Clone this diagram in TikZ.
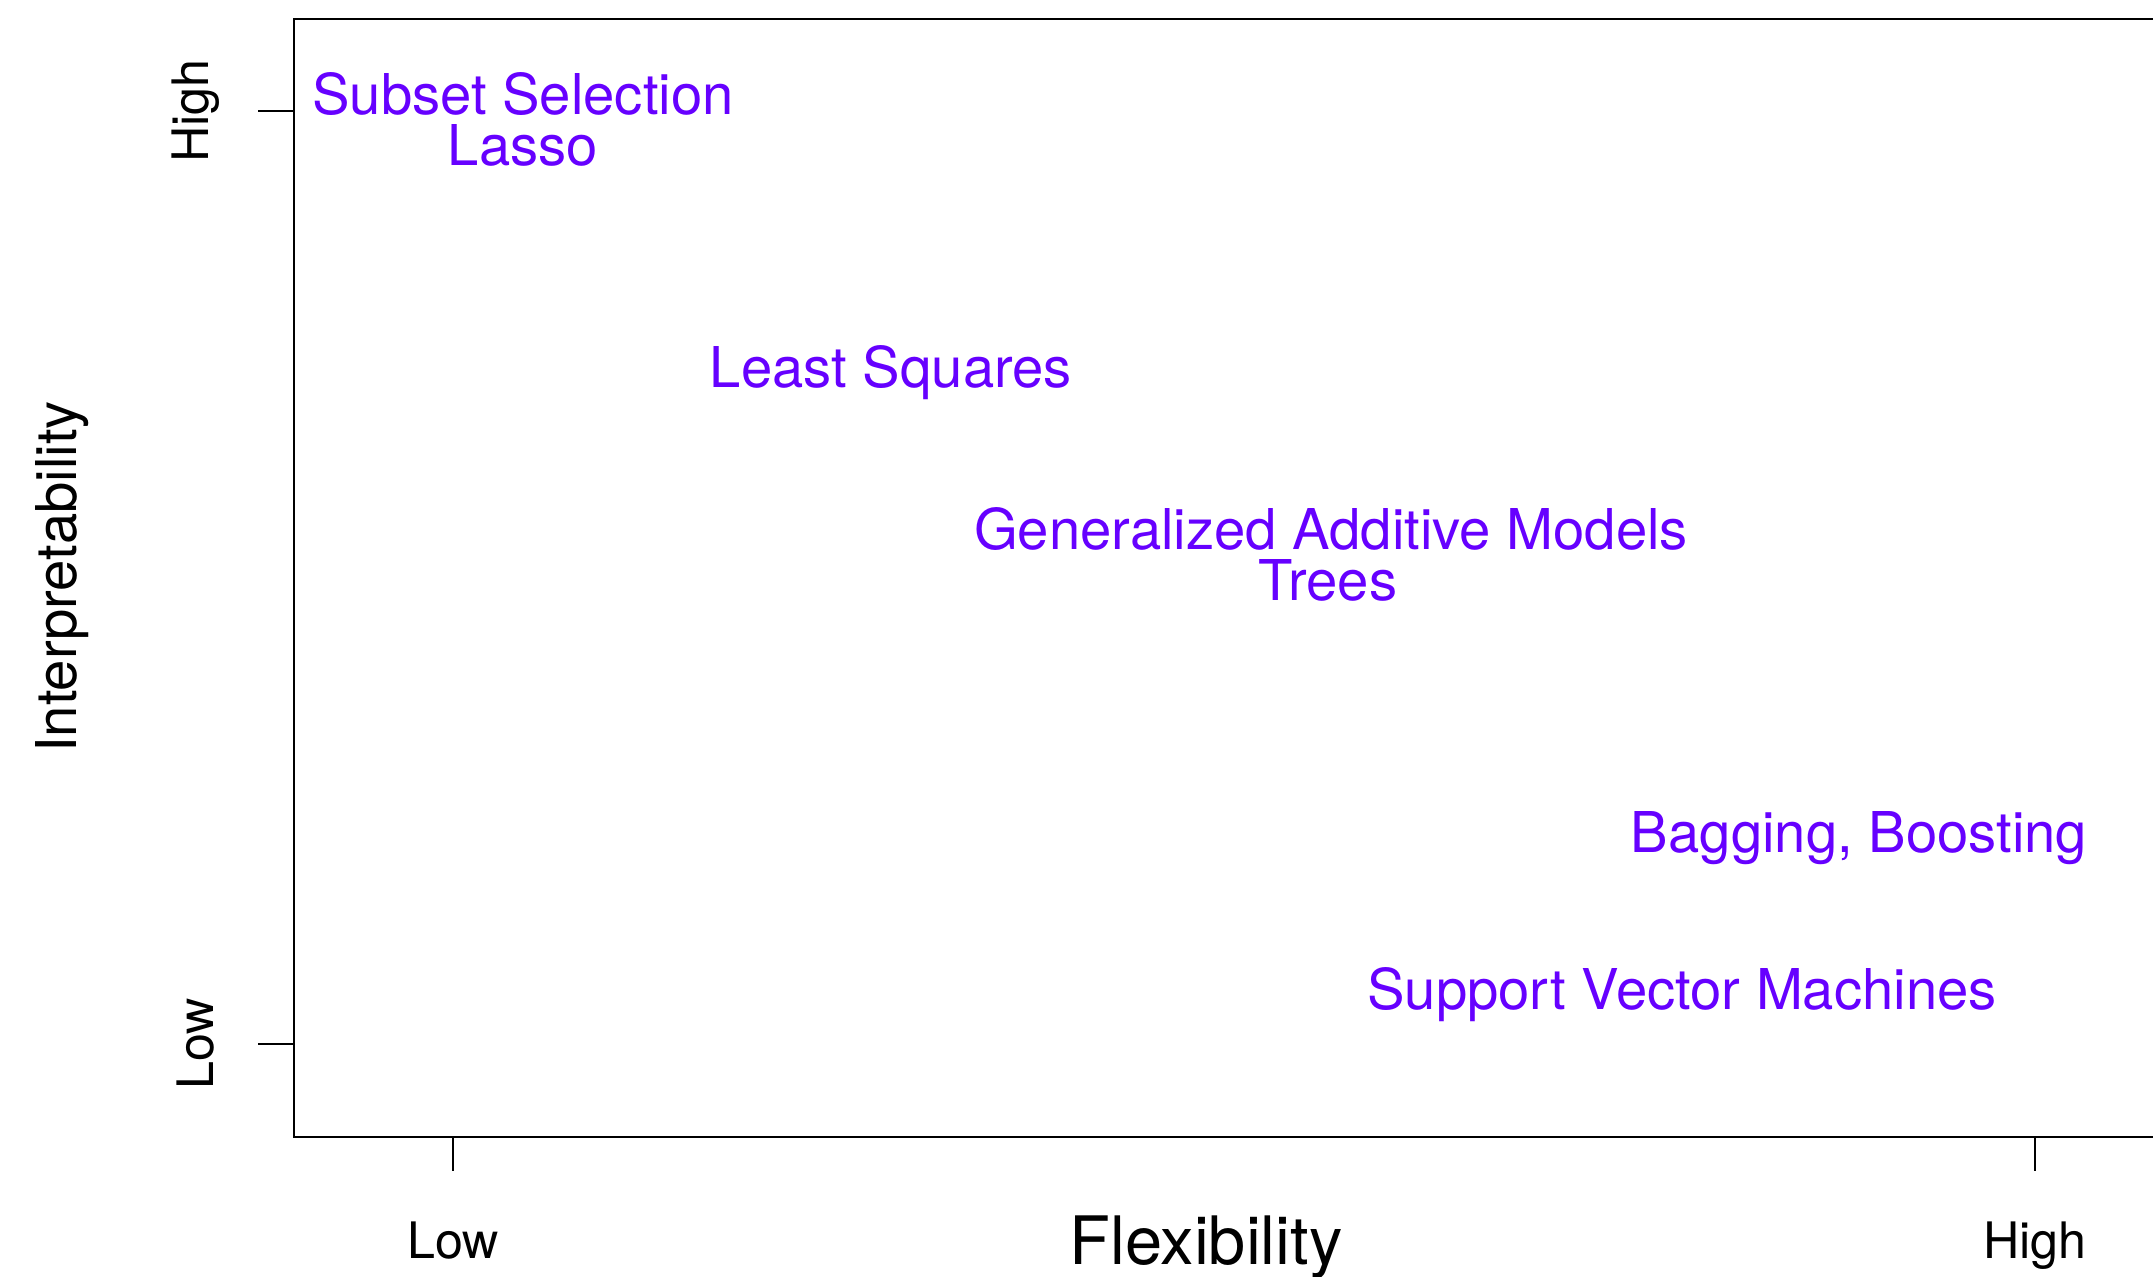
\documentclass[tikz,border=0pt]{standalone}
\usepackage{fontspec}
\setmainfont{TeX Gyre Heros}
\usepackage{tikz}
\usetikzlibrary{positioning}

\definecolor{methodcol}{RGB}{102,0,255}

\begin{document}
\begin{tikzpicture}[
    method/.style={anchor=base, text=methodcol, inner sep=0pt, font=\fontsize{16}{19}\selectfont},
    ticklab/.style={inner sep=0pt, font=\fontsize{14.3}{17}\selectfont},
    axis/.style={line width=0.7pt}
  ]
      \useasboundingbox (0, 0) rectangle (21.53, 12.77);
      \clip (0, 0) rectangle (21.53, 12.77);

      % frame, open on the right
      \draw [axis] (22, 12.58) -- (2.94, 12.58) -- (2.94, 1.40) -- (22, 1.40);

      % ticks
      \coordinate (ylow) at (2.94, 2.33);
      \coordinate (yhigh) at (2.94, 11.66);
      \coordinate (xlow) at (4.53, 1.40);
      \coordinate (xhigh) at (20.35, 1.40);
      \draw [axis] (ylow) -- ++(-0.36, 0);
      \draw [axis] (yhigh) -- ++(-0.36, 0);
      \draw [axis] (xlow) -- ++(0, -0.34);
      \draw [axis] (xhigh) -- ++(0, -0.34);

      \node [ticklab, rotate=90] (ylowlab) at (1.96, 2.33) {Low};
      \node [ticklab, rotate=90] (yhighlab) at (1.96, 11.66) {High};
      \node [ticklab, anchor=base] (xlowlab) at (4.53, 0.18) {Low};
      \node [ticklab, anchor=base] (xhighlab) at (20.35, 0.18) {High};

      \node [inner sep=0pt, font=\fontsize{19}{22}\selectfont] (xlabel) at (12.06, 0.30) {Flexibility};
      \node [inner sep=0pt, rotate=90, font=\fontsize{16}{19}\selectfont] (ylabel) at (0.62, 7.00) {Interpretability};

      % methods
      \node [method] (subset) at (5.23, 11.62) {Subset Selection};
      \node [method] (lasso) at (5.23, 11.11) {Lasso};
      \node [method] (ls) at (8.91, 8.89) {Least Squares};
      \node [method] (gam) at (13.31, 7.27) {Generalized Additive Models};
      \node [method] (trees) at (13.28, 6.76) {Trees};
      \node [method] (bagging) at (18.59, 4.24) {Bagging, Boosting};
      \node [method] (svm) at (16.82, 2.67) {Support Vector Machines};
    \end{tikzpicture}
\end{document}
